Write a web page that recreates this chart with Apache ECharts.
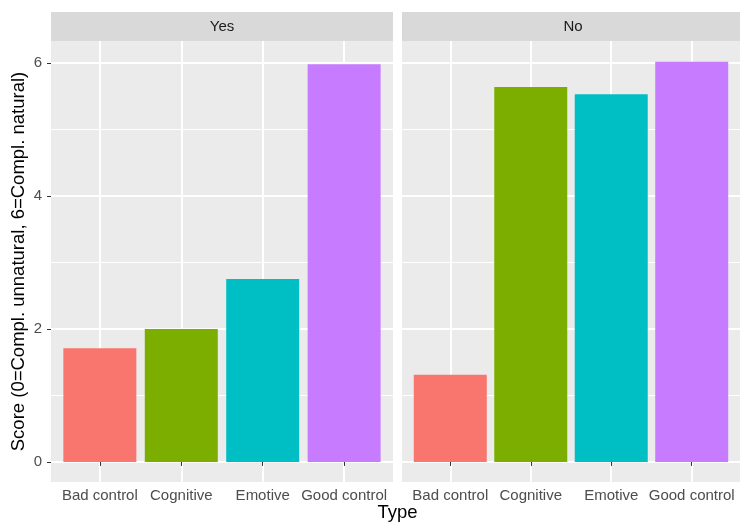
<!DOCTYPE html>
<html>
<head>
<meta charset="utf-8">
<script src="https://cdn.jsdelivr.net/npm/echarts@6/dist/echarts.min.js"></script>
<style>html,body{margin:0;padding:0;background:#fff}#c{width:740px;height:523px}</style>
</head>
<body>
<div id="c"></div>
<script>
const categories = ['Bad control', 'Cognitive', 'Emotive', 'Good control'];
const panels = ['Yes', 'No'];
const yesValues = [1.71, 2.0, 2.75, 5.98];
const noValues = [1.31, 5.64, 5.53, 6.02];
const yTicks = [0, 2, 4, 6];
const yMinorTicks = [1, 3, 5];
const barColors = ['#F8766D', '#7CAE00', '#00BFC4', '#C77CFF'];
const yTitle = 'Score (0=Compl. unnatural, 6=Compl. natural)';
const xTitle = 'Type';

const FONT = 'Liberation Sans, Arial, sans-serif';
const panelValues = [yesValues, noValues];
const yMin = -0.3015, yMax = 6.3315;
const catPos = categories.map((c, i) => i + 1);

const grids = [
  {left: 51, top: 41, width: 342, height: 441},
  {left: 402, top: 41, width: 342, height: 441}
];

const chart = echarts.init(document.getElementById('c'), null, {renderer: 'canvas'});

const xAxes = grids.map((g, i) => ({
  type: 'value', gridIndex: i, min: 0.4, max: 4.6,
  axisLine: {show: false},
  axisTick: {show: true, length: 4, customValues: catPos, lineStyle: {color: '#333333', width: 1}},
  axisLabel: {customValues: catPos, formatter: v => categories[Math.round(v) - 1] || '',
    color: '#4D4D4D', fontSize: 15, fontFamily: FONT, margin: 6},
  splitLine: {show: true, lineStyle: {color: '#FFFFFF', width: 2}}
}));

const yAxes = [];
grids.forEach((g, i) => {
  yAxes.push({
    type: 'value', gridIndex: i, min: yMin, max: yMax,
    axisLine: {show: false},
    axisTick: {show: i === 0, length: 4, customValues: yTicks, lineStyle: {color: '#333333', width: 1}},
    axisLabel: {show: i === 0, customValues: yTicks, color: '#4D4D4D', fontSize: 15, fontFamily: FONT, margin: 9},
    splitLine: {show: true, lineStyle: {color: '#FFFFFF', width: 2}},
    name: i === 0 ? yTitle : '',
    nameLocation: 'middle', nameGap: 23, nameRotate: 90,
    nameTextStyle: {color: '#000000', fontSize: 18.5, fontFamily: FONT}
  });
  yAxes.push({
    type: 'value', gridIndex: i, min: yMin, max: yMax,
    axisLine: {show: false},
    axisTick: {show: false, customValues: yMinorTicks},
    axisLabel: {show: false, customValues: yMinorTicks},
    splitLine: {show: true, lineStyle: {color: '#FFFFFF', width: 1}}
  });
});

const series = panels.map((p, i) => ({
  type: 'bar', xAxisIndex: i, yAxisIndex: 2 * i,
  barWidth: 73,
  silent: true,
  data: categories.map((c, k) => ({value: [catPos[k], panelValues[i][k]], itemStyle: {color: barColors[k]}}))
}));

const graphics = [];
panels.forEach((p, i) => {
  const g = grids[i];
  graphics.push({type: 'rect', shape: {x: g.left, y: 12, width: g.width, height: 29}, style: {fill: '#D9D9D9'}, silent: true});
  graphics.push({type: 'text', x: g.left + g.width / 2, y: 26.5,
    style: {text: p, fill: '#1A1A1A', font: '15px ' + FONT, align: 'center', verticalAlign: 'middle'}, silent: true});
});
graphics.push({type: 'text', x: 397.5, y: 513,
  style: {text: xTitle, fill: '#000000', font: '18.5px ' + FONT, align: 'center', verticalAlign: 'middle'}, silent: true});

chart.setOption({
  animation: false,
  backgroundColor: '#FFFFFF',
  grid: grids.map(g => Object.assign({show: true, backgroundColor: '#EBEBEB', borderWidth: 0, containLabel: false}, g)),
  xAxis: xAxes,
  yAxis: yAxes,
  series: series,
  graphic: graphics
});
</script>
</body>
</html>
